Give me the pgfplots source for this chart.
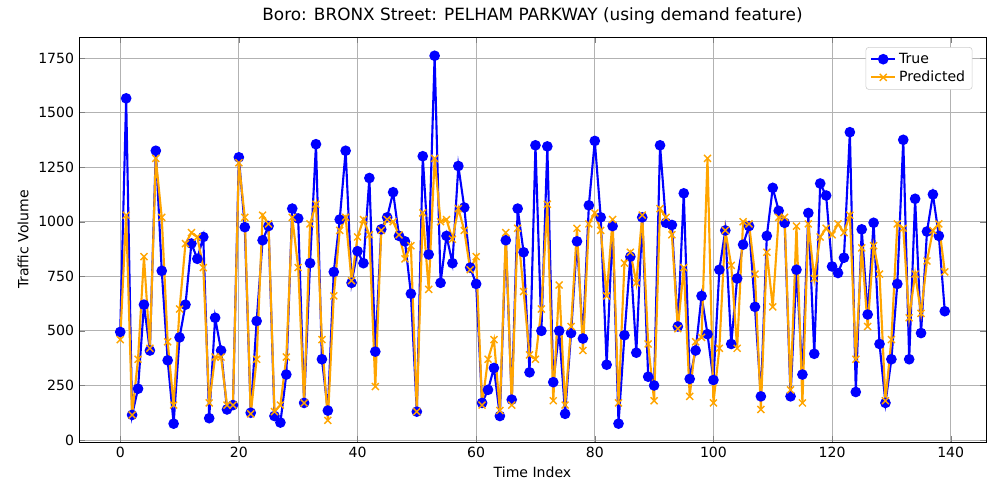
\documentclass[border=0pt]{standalone}
\usepackage{pgfplots}
\pgfplotsset{compat=1.18}
\usepackage{fontspec}
\setmainfont{DejaVu Sans}
\definecolor{mplorange}{RGB}{255,165,0}
\begin{document}
\begin{tikzpicture}
\path[use as bounding box] (-1.975,-1.45) rectangle (23.025,11.05);
\begin{axis}[at={(0,0)},anchor=south west,scale only axis,width=22.675cm,height=10.125cm,
 xmin=-6.95,xmax=145.95,ymin=-9,ymax=1846,
 xtick={0,20,...,140},ytick={0,250,...,1750},
 grid=major,grid style={gray!60,line width=0.6pt},
 tick label style={font=\normalsize},
 /pgf/number format/assume math mode=true,
 /pgf/number format/1000 sep={},
 title={Boro: BRONX Street: PELHAM PARKWAY (using demand feature)},
 title style={font=\large},
 xlabel={Time Index},ylabel={Traffic Volume},
 label style={font=\normalsize},
 legend pos=north east,legend cell align=left,
 legend style={font=\normalsize,draw=gray!40,rounded corners=2pt,at={(0.985,0.975)}}]
\addplot[blue,line width=1.5pt,mark=*,mark size=3pt] table[x expr=\coordindex,y index=0]{
y
495
1565
115
235
620
410
1325
775
365
75
470
620
900
830
930
100
560
410
140
160
1295
975
125
545
915
980
110
80
300
1060
1015
170
810
1355
370
135
770
1010
1325
720
865
810
1200
405
965
1020
1135
935
910
670
130
1300
850
1760
720
935
810
1255
1065
790
715
170
230
330
110
915
185
1060
860
310
1350
500
1345
265
500
120
490
910
465
1075
1370
1020
345
980
75
480
840
400
1020
290
250
1350
995
985
520
1130
280
410
660
485
275
780
960
440
740
895
980
610
200
935
1155
1050
995
200
780
300
1040
395
1175
1120
795
765
835
1410
220
965
575
995
440
170
370
715
1375
370
1105
490
955
1125
935
590
};
\addlegendentry{True}
\addplot[mplorange,line width=1.5pt,mark=x,mark size=3.5pt,mark options={line width=1pt}] table[x expr=\coordindex,y index=0]{
y
460
1030
115
370
840
420
1290
1020
450
160
600
900
950
930
790
170
380
380
160
160
1270
1020
120
370
1030
990
130
160
380
1020
790
170
990
1080
460
90
660
960
1020
730
930
1010
940
245
960
1010
1000
940
830
890
130
1040
690
1290
1000
1010
920
1060
960
780
840
160
370
460
135
950
160
970
680
390
370
600
1080
180
710
160
520
970
410
990
1040
960
660
1010
170
810
860
720
1030
440
180
1060
1020
940
510
790
200
450
470
1290
170
420
960
800
420
1000
990
760
140
860
610
1020
1020
230
980
170
990
740
930
970
940
990
950
1030
370
880
520
890
760
180
460
990
970
560
760
580
820
960
990
770
};
\addlegendentry{Predicted}
\end{axis}
\end{tikzpicture}
\end{document}
